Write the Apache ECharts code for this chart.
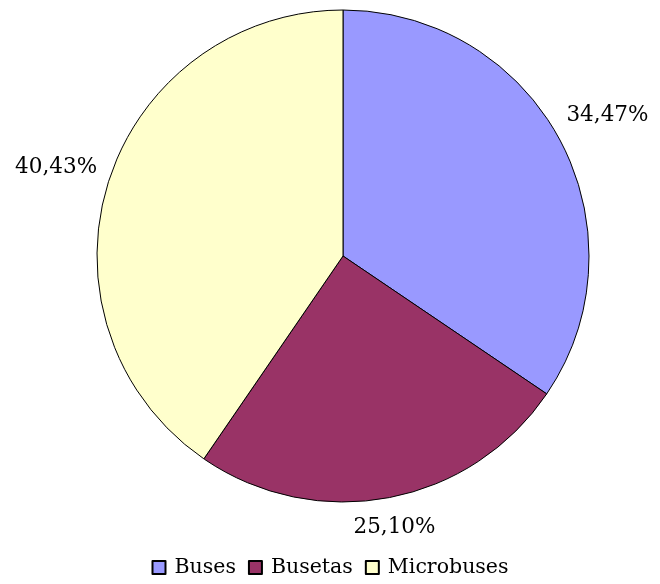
<!DOCTYPE html>
<html><head><meta charset="utf-8">
<script src="https://cdn.jsdelivr.net/npm/echarts@6/dist/echarts.min.js"></script>
<style>html,body{margin:0;padding:0;background:#fff}#c{width:660px;height:584px}</style>
</head><body><div id="c"></div>
<script>
const categories = ['Buses', 'Busetas', 'Microbuses'];
const values = [34.47, 25.10, 40.43];
const labels = ['34,47%', '25,10%', '40,43%'];
const colors = ['#9999FF', '#993366', '#FFFFCC'];

const CX = 343, CY = 256, R = 246, GAP = 12;
const total = values.reduce((a, b) => a + b, 0);
const midAngles = [];
let acc = 0;
values.forEach(v => { midAngles.push((acc + v / 2) / total * 2 * Math.PI); acc += v; });

const chart = echarts.init(document.getElementById('c'), null, {renderer: 'canvas'});
chart.setOption({
  animation: false,
  backgroundColor: '#fff',
  legend: {
    bottom: 1,
    left: 'center',
    icon: 'rect',
    itemWidth: 13,
    itemHeight: 13,
    itemGap: 12,
    textStyle: {fontFamily: 'DejaVu Serif', fontSize: 20.5, color: '#000', padding: [0, 0, 0, 4]},
    data: categories
  },
  series: [{
    type: 'pie',
    center: [CX, CY],
    radius: R,
    startAngle: 90,
    clockwise: true,
    itemStyle: {borderColor: '#000', borderWidth: 1},
    label: {
      show: true,
      position: 'outside',
      alignTo: 'none',
      overflow: 'none',
      width: 200,
      fontFamily: 'DejaVu Serif',
      fontSize: 21.5,
      color: '#000',
      formatter: p => labels[p.dataIndex]
    },
    labelLine: {show: false},
    labelLayout: function (p) {
      const a = midAngles[p.dataIndex];
      const dx = Math.sin(a), dy = -Math.cos(a);
      const hw = p.labelRect.width / 2, hh = p.labelRect.height / 2;
      const d = R + GAP + Math.abs(hw * dx) + Math.abs(hh * dy);
      return {x: CX + d * dx, y: CY + d * dy, align: 'center', verticalAlign: 'middle'};
    },
    emphasis: {disabled: true},
    data: categories.map((c, i) => ({name: c, value: values[i], itemStyle: {color: colors[i]}}))
  }]
});
</script></body></html>
